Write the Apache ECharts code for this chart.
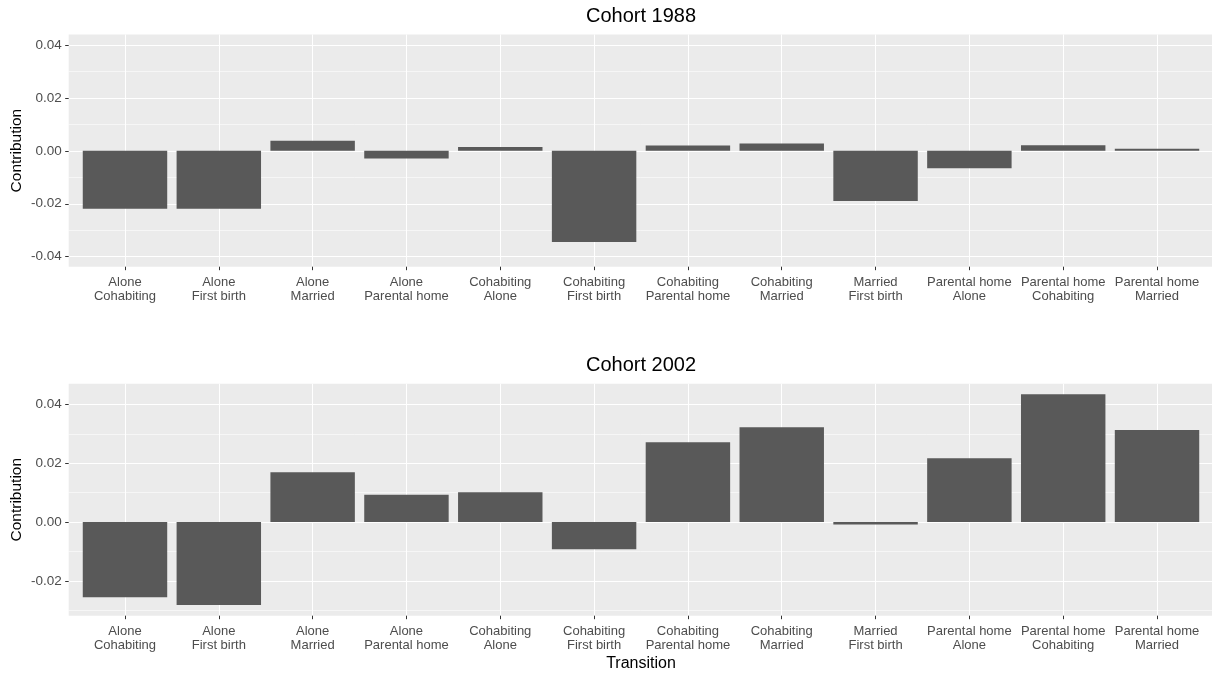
<!DOCTYPE html>
<html>
<head>
<meta charset="utf-8">
<title>Contribution by transition</title>
<script src="https://cdn.jsdelivr.net/npm/echarts@6/dist/echarts.min.js"></script>
<style>
  html, body { margin: 0; padding: 0; background: #ffffff; }
  #chart { width: 1212px; height: 675px; }
</style>
</head>
<body>
<div id="chart"></div>
<script>
// Transition categories (origin state \n destination state)
const categories = [
  'Alone\nCohabiting', 'Alone\nFirst birth', 'Alone\nMarried', 'Alone\nParental home',
  'Cohabiting\nAlone', 'Cohabiting\nFirst birth', 'Cohabiting\nParental home', 'Cohabiting\nMarried',
  'Married\nFirst birth', 'Parental home\nAlone', 'Parental home\nCohabiting', 'Parental home\nMarried'
];

// Contribution of each transition, by cohort
const cohort1988 = [-0.0219, -0.0219, 0.0038, -0.0029, 0.0015, -0.0345, 0.0020, 0.0028, -0.0190, -0.0066, 0.0021, 0.0008];
const cohort2002 = [-0.0255, -0.0282, 0.0169, 0.0093, 0.0101, -0.0092, 0.0271, 0.0322, -0.0008, 0.0217, 0.0434, 0.0313];

// Panel titles and tick values
const panelTitles = ['Cohort 1988', 'Cohort 2002'];
const yTicks1988 = [-0.04, -0.02, 0.00, 0.02, 0.04];
const yTicks2002 = [-0.02, 0.00, 0.02, 0.04];
const yRange1988 = [-0.0438, 0.0440];
const yRange2002 = [-0.0318, 0.0470];

const catIndex = categories.map((_, i) => i);

const PANEL_LEFT = 68.7;
const panels = [
  { top: 34.5, height: 232.2, titleY: 16, values: cohort1988, ticks: yTicks1988, range: yRange1988 },
  { top: 383.7, height: 232.0, titleY: 365, values: cohort2002, ticks: yTicks2002, range: yRange2002 }
];

const TICK_COLOR = '#333333';
const LABEL_COLOR = '#4D4D4D';
const textFont = 'Liberation Sans, Arial, sans-serif';

const grids = panels.map(p => ({
  left: PANEL_LEFT, right: 0, top: p.top, height: p.height,
  show: true, backgroundColor: '#EBEBEB', borderWidth: 0, containLabel: false
}));

const xAxes = panels.map((p, i) => ({
  type: 'value', gridIndex: i, min: -0.6, max: 11.586, position: 'bottom',
  axisLine: { show: false, onZero: false },
  axisTick: { show: true, length: 3.5, customValues: catIndex, lineStyle: { color: TICK_COLOR, width: 1 } },
  axisLabel: {
    customValues: catIndex,
    formatter: v => categories[Math.round(v)],
    color: LABEL_COLOR, fontSize: 13, lineHeight: 14.5, margin: 8,
    fontFamily: textFont
  },
  splitLine: { show: true, lineStyle: { color: '#FFFFFF', width: 1.1 } },
  minorSplitLine: { show: false }
}));

const yAxes = panels.map((p, i) => ({
  type: 'value', gridIndex: i, min: p.range[0], max: p.range[1], position: 'left',
  axisLine: { show: false, onZero: false },
  axisTick: { show: true, length: 3.5, customValues: p.ticks, lineStyle: { color: TICK_COLOR, width: 1 } },
  axisLabel: {
    customValues: p.ticks,
    formatter: v => v.toFixed(2),
    color: LABEL_COLOR, fontSize: 13.5, margin: 7,
    fontFamily: textFont
  },
  splitLine: { show: true, lineStyle: { color: '#FFFFFF', width: 1.1 } },
  minorTick: { show: false, splitNumber: 2 },
  minorSplitLine: { show: true, lineStyle: { color: '#FFFFFF', width: 0.55 } }
}));

const series = panels.map((p, i) => ({
  type: 'bar', xAxisIndex: i, yAxisIndex: i,
  data: p.values.map((v, k) => [catIndex[k], v]),
  barWidth: '90%',
  itemStyle: { color: '#595959' },
  silent: true
}));

const graphics = [];
panels.forEach((p, i) => {
  graphics.push({
    type: 'text', x: 641, y: p.titleY,
    style: { text: panelTitles[i], fill: '#000000', font: '20px ' + textFont, textAlign: 'center', textVerticalAlign: 'middle' }
  });
  graphics.push({
    type: 'text', x: 17, y: p.top + p.height / 2, rotation: Math.PI / 2,
    style: { text: 'Contribution', fill: '#000000', font: '15.5px ' + textFont, textAlign: 'center', textVerticalAlign: 'middle' }
  });
});
graphics.push({
  type: 'text', x: 641, y: 664,
  style: { text: 'Transition', fill: '#000000', font: '16px ' + textFont, textAlign: 'center', textVerticalAlign: 'middle' }
});

const chart = echarts.init(document.getElementById('chart'), null, { renderer: 'canvas' });
chart.setOption({
  animation: false,
  backgroundColor: '#FFFFFF',
  grid: grids,
  xAxis: xAxes,
  yAxis: yAxes,
  series: series,
  graphic: graphics
});
</script>
</body>
</html>
